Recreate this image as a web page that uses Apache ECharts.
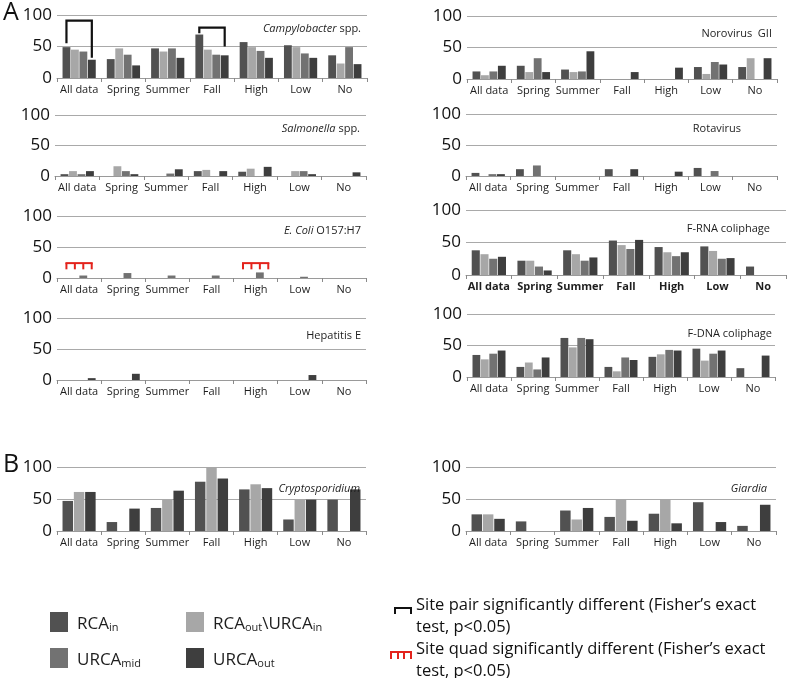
<!DOCTYPE html>
<html>
<head>
<meta charset="utf-8">
<script src="https://cdn.jsdelivr.net/npm/echarts@6/dist/echarts.min.js"></script>
<style>
html, body { margin: 0; padding: 0; background: #fff; }
#chart { width: 789px; height: 678px; }
</style>
</head>
<body>
<div id="chart"></div>
<script>
var categories = ['All data', 'Spring', 'Summer', 'Fall', 'High', 'Low', 'No'];
var sitesA = ['RCAin', 'RCAout\\URCAin', 'URCAmid', 'URCAout'];
var sitesB = ['RCAin', 'RCAout\\URCAin', 'URCAout'];
var yTicks = [0, 50, 100];

// A: % positive, order RCAin, RCAout\URCAin, URCAmid, URCAout
var campylobacter = [
  [49, 30, 47, 69, 57, 52, 36],
  [45, 47, 42, 45, 49, 49, 23],
  [42, 37, 47, 37, 43, 39, 49],
  [29, 20, 32, 36, 32, 32, 22]
];
var salmonella = [
  [3, 0, 0, 8, 7, 0, 0],
  [8, 16, 0, 10, 12, 8, 0],
  [3, 8, 4, 0, 0, 8, 0],
  [8, 3, 11, 8, 15, 3, 6]
];
var ecoli = [
  [0, 0, 0, 0, 0, 0, 0],
  [0, 0, 0, 0, 0, 0, 0],
  [4, 8, 4, 4, 9, 2, 0],
  [0, 0, 0, 0, 0, 0, 0]
];
var hepatitisE = [
  [0, 0, 0, 0, 0, 0, 0],
  [0, 0, 0, 0, 0, 0, 0],
  [0, 0, 0, 0, 0, 0, 0],
  [3, 10, 0, 0, 0, 8, 0]
];
var norovirus = [
  [12, 21, 15, 0, 0, 19, 19],
  [6, 11, 11, 0, 0, 8, 33],
  [12, 33, 12, 0, 0, 27, 0],
  [21, 11, 44, 11, 18, 23, 33]
];
var rotavirus = [
  [5, 11, 0, 11, 0, 13, 0],
  [0, 0, 0, 0, 0, 0, 0],
  [3, 17, 0, 0, 0, 8, 0],
  [3, 0, 0, 11, 7, 0, 0]
];
var frnaColiphage = [
  [38, 22, 38, 53, 43, 44, 13],
  [32, 22, 32, 46, 35, 37, 0],
  [25, 13, 22, 40, 29, 25, 0],
  [28, 7, 27, 54, 35, 26, 0]
];
var fdnaColiphage = [
  [35, 16, 62, 16, 32, 45, 14],
  [28, 23, 47, 9, 36, 26, 0],
  [37, 12, 62, 31, 43, 37, 0],
  [42, 31, 60, 27, 42, 42, 34]
];
// B: order RCAin, RCAout\URCAin, URCAout
var cryptosporidium = [
  [47, 14, 36, 77, 65, 18, 49],
  [61, 0, 49, 100, 73, 49, 0],
  [61, 35, 63, 82, 67, 49, 65]
];
var giardia = [
  [26, 15, 32, 22, 27, 45, 8],
  [26, 0, 18, 50, 50, 0, 0],
  [19, 0, 36, 16, 12, 14, 41]
];

// brackets: [category, top, left leg end, right leg end]
var campyPairs = [[0, 91, 55, 32], [3, 80, 71, 50]];
// quads: [category, top, leg end]
var ecoliQuads = [[0, 24, 14], [4, 24, 14]];

var siteColor = {
  'RCAin': '#515151',
  'RCAout\\URCAin': '#a7a7a7',
  'URCAmid': '#727272',
  'URCAout': '#3e3e3e'
};
var siteLabel = {
  'RCAin': '{b|RCA}{s|in}',
  'RCAout\\URCAin': '{b|RCA}{s|out}{b|\\URCA}{s|in}',
  'URCAmid': '{b|URCA}{s|mid}',
  'URCAout': '{b|URCA}{s|out}'
};

var CAT_GAP = 0.25, BAR_GAP = 0.08;
var FONT = '"Open Sans", "Noto Sans", sans-serif';

var panels = [
  { data: campylobacter, sites: sitesA, title: '{i|Campylobacter} spp.', grid: [57, 15, 310, 63], tr: 423, tt: 18 },
  { data: salmonella, sites: sitesA, title: '{i|Salmonella} spp.', grid: [55, 115, 311, 61], tr: 424, tt: 118 },
  { data: ecoli, sites: sitesA, title: '{i|E. Coli} O157:H7', grid: [57, 216, 309, 62], tr: 423, tt: 220 },
  { data: hepatitisE, sites: sitesA, title: 'Hepatitis E', grid: [57, 318, 309, 62], tr: 423, tt: 325 },
  { data: norovirus, sites: sitesA, title: 'Norovirus  GII', grid: [467, 16, 310, 63], tr: 12, tt: 23 },
  { data: rotavirus, sites: sitesA, title: 'Rotavirus', grid: [466, 114, 311, 62], tr: 43, tt: 118 },
  { data: frnaColiphage, sites: sitesA, title: 'F-RNA coliphage', grid: [466, 210, 320, 65], tr: 14, tt: 218, bold: true },
  { data: fdnaColiphage, sites: sitesA, title: 'F-DNA coliphage', grid: [467, 314, 308, 63], tr: 12, tt: 323 },
  { data: cryptosporidium, sites: sitesB, title: '{i|Cryptosporidium}', grid: [57, 467, 309, 64], tr: 424, tt: 478 },
  { data: giardia, sites: sitesB, title: '{i|Giardia}', grid: [466, 467, 310, 64], tr: 17, tt: 478 }
];

function barCenter(api, nBars, cat, i) {
  var c = api.coord([cat, 0]);
  var band = api.size([1, 0])[0];
  var inner = band * (1 - CAT_GAP);
  var w = inner / (nBars + (nBars - 1) * BAR_GAP);
  return c[0] - inner / 2 + w / 2 + i * w * (1 + BAR_GAP);
}

function pairRender(params, api) {
  var cat = api.value(0);
  var yTop = api.coord([cat, api.value(1)])[1];
  var yL = api.coord([cat, api.value(2)])[1];
  var yR = api.coord([cat, api.value(3)])[1];
  var x0 = barCenter(api, 4, cat, 0), x3 = barCenter(api, 4, cat, 3);
  return {
    type: 'polyline',
    shape: { points: [[x0, yL], [x0, yTop], [x3, yTop], [x3, yR]] },
    style: { stroke: '#111', lineWidth: 2.2, fill: null }
  };
}

function quadRender(params, api) {
  var cat = api.value(0);
  var yTop = api.coord([cat, api.value(1)])[1];
  var yBot = api.coord([cat, api.value(2)])[1];
  var kids = [];
  var xs = [0, 1, 2, 3].map(function (i) { return barCenter(api, 4, cat, i); });
  kids.push({ type: 'line', shape: { x1: xs[0] - 1, y1: yTop, x2: xs[3] + 1, y2: yTop }, style: { stroke: '#e3231c', lineWidth: 2 } });
  xs.forEach(function (x) {
    kids.push({ type: 'line', shape: { x1: x, y1: yTop, x2: x, y2: yBot }, style: { stroke: '#e3231c', lineWidth: 2 } });
  });
  return { type: 'group', children: kids };
}

var grids = [], xAxes = [], yAxes = [], series = [], titles = [];
panels.forEach(function (p, k) {
  grids.push({ left: p.grid[0], top: p.grid[1], width: p.grid[2], height: p.grid[3] });
  xAxes.push({
    type: 'category', gridIndex: k, data: categories,
    axisLine: { lineStyle: { color: '#9a9a9a', width: 1 } },
    axisTick: { show: true, length: 4, lineStyle: { color: '#8a8a8a' } },
    axisLabel: { color: '#1e1e1e', fontSize: 11, fontFamily: FONT, margin: 6, interval: 0,
      fontWeight: p.bold ? 'bold' : 'normal' }
  });
  yAxes.push({
    type: 'value', gridIndex: k, min: yTicks[0], max: yTicks[2], interval: yTicks[1],
    axisLine: { show: false }, axisTick: { show: false },
    axisLabel: { color: '#111', fontSize: 17, fontFamily: FONT, margin: 5 },
    splitLine: { lineStyle: { color: '#a9a9a9', width: 1 } }
  });
  p.sites.forEach(function (s, i) {
    series.push({
      type: 'bar', name: s, xAxisIndex: k, yAxisIndex: k, data: p.data[i],
      itemStyle: { color: siteColor[s] },
      barGap: (BAR_GAP * 100) + '%', barCategoryGap: (CAT_GAP * 100) + '%'
    });
  });
  titles.push({
    text: p.title, right: p.tr, top: p.tt,
    textStyle: { fontSize: 11, fontWeight: 'normal', color: '#1e1e1e', fontFamily: FONT,
      rich: { i: { fontStyle: 'italic', fontSize: 11, color: '#1e1e1e', fontFamily: FONT } } }
  });
});

series.push({ type: 'custom', xAxisIndex: 0, yAxisIndex: 0, renderItem: pairRender, data: campyPairs, z: 5 });
series.push({ type: 'custom', xAxisIndex: 2, yAxisIndex: 2, renderItem: quadRender, data: ecoliQuads, z: 5 });

var legendText = {
  fontSize: 17, fontFamily: FONT, color: '#1e1e1e', padding: [0, 0, 0, 4],
  rich: {
    b: { fontSize: 17, fontFamily: FONT, color: '#1e1e1e', verticalAlign: 'bottom', lineHeight: 22 },
    s: { fontSize: 11, fontFamily: FONT, color: '#1e1e1e', verticalAlign: 'bottom', lineHeight: 11 }
  }
};
function legendFmt(name) { return siteLabel[name]; }
function legendAt(name, x, y) {
  return { left: x, top: y, icon: 'rect', itemWidth: 18, itemHeight: 20, padding: 0,
    data: [name], formatter: legendFmt, textStyle: legendText, selectedMode: false };
}

var option = {
  animation: false,
  title: titles,
  grid: grids,
  xAxis: xAxes,
  yAxis: yAxes,
  series: series,
  legend: [
    legendAt('RCAin', 50, 612),
    legendAt('URCAmid', 50, 648),
    legendAt('RCAout\\URCAin', 186, 612),
    legendAt('URCAout', 186, 648)
  ],
  graphic: [
    { type: 'text', left: 3, top: 0, style: { text: 'A', fontSize: 25, fontFamily: FONT, fill: '#111' } },
    { type: 'text', left: 3, top: 452, style: { text: 'B', fontSize: 25, fontFamily: FONT, fill: '#111' } },
    { type: 'polyline', shape: { points: [[395, 614], [395, 608], [411, 608], [411, 614]] },
      style: { stroke: '#111', lineWidth: 2, fill: null } },
    { type: 'polyline', shape: { points: [[391, 659], [391, 652], [411, 652], [411, 659]] },
      style: { stroke: '#e3231c', lineWidth: 2, fill: null } },
    { type: 'line', shape: { x1: 398, y1: 652, x2: 398, y2: 659 }, style: { stroke: '#e3231c', lineWidth: 2 } },
    { type: 'line', shape: { x1: 404, y1: 652, x2: 404, y2: 659 }, style: { stroke: '#e3231c', lineWidth: 2 } },
    { type: 'text', left: 416, top: 594, style: { text: 'Site pair significantly different (Fisher\u2019s exact\ntest, p<0.05)',
      fontSize: 16.5, lineHeight: 22, fontFamily: FONT, fill: '#111' } },
    { type: 'text', left: 416, top: 638, style: { text: 'Site quad significantly different (Fisher\u2019s exact\ntest, p<0.05)',
      fontSize: 16.5, lineHeight: 22, fontFamily: FONT, fill: '#111' } }
  ]
};

var chart = echarts.init(document.getElementById('chart'));
chart.setOption(option);
</script>
</body>
</html>
